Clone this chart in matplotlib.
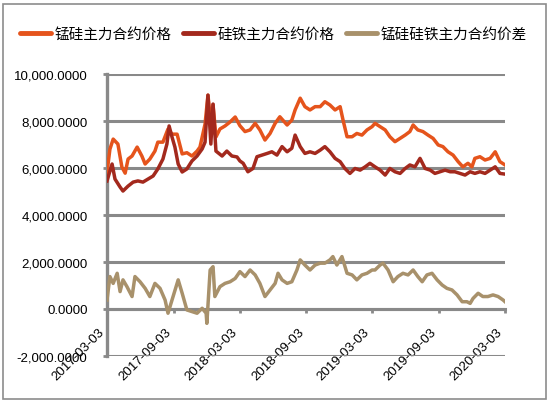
import numpy as np
import pandas as pd
import matplotlib
matplotlib.use('Agg')
import matplotlib.pyplot as plt
from matplotlib.ticker import FuncFormatter
from matplotlib.patches import Rectangle

# data: days after 2017-03-03, price in yuan
start = pd.Timestamp('2017-03-03')

mnsi_days = [0, 8, 17, 30, 41, 50, 58, 69, 83, 96, 105, 118, 132, 140, 154, 168, 179, 193,
             207, 220, 234, 248, 256, 270, 278, 286, 292, 300, 311, 325, 339, 353, 366, 380,
             394, 408, 421, 435, 449, 463, 476, 496, 509, 518, 532, 545, 559, 573, 587, 600,
             614, 628, 642, 650, 661, 675, 688, 702, 716, 730, 738, 752, 766, 779, 793, 807,
             821, 834, 843, 856, 870, 884, 898, 912, 925, 939, 953, 967, 980, 994, 1005, 1013,
             1027, 1041, 1055, 1069, 1082, 1096]
mnsi_price = [5800, 6800, 7230, 7020, 6040, 5780, 6380, 6510, 6890, 6510, 6170, 6380, 6720, 7100,
              7100, 7660, 7440, 7440, 6600, 6650, 6510, 6720, 6890, 7870, 9100, 7900, 8700, 7320,
              7660, 7790, 7960, 8170, 7800, 7550, 7620, 7900, 7620, 7190, 7470, 7900, 8180, 7830,
              8040, 8470, 8970, 8610, 8470, 8610, 8610, 8820, 8680, 8470, 8610, 8040, 7330, 7330,
              7470, 7400, 7620, 7760, 7900, 7760, 7620, 7330, 7120, 7260, 7400, 7550, 7830, 7620,
              7550, 7400, 7260, 6980, 6910, 6690, 6550, 6270, 6050, 6200, 6050, 6410, 6480, 6340,
              6410, 6690, 6270, 6130]

fesi_days = [0, 14, 22, 36, 44, 58, 72, 85, 99, 113, 127, 140, 154, 165, 171, 179, 187, 196,
             207, 220, 234, 248, 262, 270, 278, 286, 292, 300, 317, 330, 344, 358, 366, 375,
             388, 402, 413, 427, 441, 454, 468, 482, 496, 509, 518, 532, 545, 559, 573, 587,
             600, 614, 628, 642, 655, 669, 683, 697, 711, 724, 738, 752, 766, 779, 793, 807,
             821, 834, 848, 862, 876, 890, 903, 917, 931, 945, 958, 972, 986, 1000, 1013, 1027,
             1041, 1055, 1069, 1082, 1096]
fesi_price = [5450, 6170, 5530, 5190, 5020, 5230, 5400, 5450, 5400, 5530, 5660, 5960, 6380, 7020,
              7790, 7320, 6890, 6170, 5830, 5960, 6300, 6510, 6810, 7100, 9100, 7020, 8720, 6720,
              6510, 6720, 6510, 6470, 6300, 6200, 5840, 5980, 6480, 6550, 6620, 6690, 6550, 6910,
              6690, 6840, 7400, 6910, 6620, 6690, 6620, 6760, 6910, 6690, 6410, 6270, 5980, 5770,
              5980, 5910, 6050, 6200, 6050, 5910, 5700, 5980, 5840, 5770, 5980, 6130, 6050, 6410,
              5980, 5910, 5770, 5840, 5910, 5840, 5840, 5770, 5700, 5840, 5770, 5840, 5770, 5910,
              6050, 5770, 5740]

spread_days = [0, 8, 17, 28, 36, 44, 55, 69, 77, 91, 105, 118, 132, 146, 160, 168, 179, 196,
               207, 220, 234, 248, 262, 273, 275, 284, 292, 297, 311, 325, 339, 353, 366, 380,
               394, 408, 421, 435, 449, 463, 471, 482, 496, 509, 523, 532, 545, 559, 573, 587,
               600, 614, 622, 633, 647, 661, 675, 688, 702, 716, 730, 738, 752, 760, 774, 788,
               801, 815, 829, 843, 856, 868, 881, 895, 909, 923, 936, 950, 964, 978, 991, 1000,
               1008, 1022, 1035, 1049, 1063, 1077, 1091, 1096]
spread_price = [380, 1380, 1090, 1520, 740, 1240, 950, 530, 1380, 1160, 880, 530, 1090, 880, 380,
                -180, 380, 1240, 670, -40, -110, -180, 30, -180, -610, 1660, 1800, 530, 950, 1090,
                1160, 1300, 1590, 1380, 1660, 1450, 1090, 530, 810, 1090, 1520, 1240, 1090, 1160,
                1660, 2090, 1870, 1660, 1870, 1950, 1950, 2090, 2230, 1870, 2230, 1520, 1450, 1240,
                1450, 1520, 1660, 1660, 1870, 1950, 1660, 1160, 1380, 1520, 1450, 1660, 1380, 1160,
                1450, 1520, 1240, 1020, 880, 810, 600, 310, 310, 240, 450, 670, 530, 530, 600, 530,
                380, 310]

tick_labels = ['2017-03-03', '2017-09-03', '2018-03-03', '2018-09-03',
               '2019-03-03', '2019-09-03', '2020-03-03']
series_names = ['锰硅主力合约价格', '硅铁主力合约价格', '锰硅硅铁主力合约价差']

gray = '#898989'
plt.rcParams['font.family'] = ['Liberation Sans', 'Noto Sans CJK SC']

fig = plt.figure(figsize=(5.5, 4.06), dpi=100)
ax = fig.add_axes([107 / 550, 1 - 357 / 406, 398 / 550, 282 / 406])

def to_dates(days):
    return start + pd.to_timedelta(np.array(days), unit='D')

ax.plot(to_dates(mnsi_days), mnsi_price, color='#E5541C', lw=2.5, label=series_names[0], zorder=4,
        solid_joinstyle='round')
ax.plot(to_dates(fesi_days), fesi_price, color='#A3291D', lw=2.5, label=series_names[1], zorder=4,
        solid_joinstyle='round')
ax.plot(to_dates(spread_days), spread_price, color='#A8916B', lw=2.5, label=series_names[2], zorder=4,
        solid_joinstyle='round')

# spines first: moving the bottom spine resets the tick labels
for s in ['top', 'right']:
    ax.spines[s].set_visible(False)
ax.spines['bottom'].set_position(('data', 0))
ax.spines['bottom'].set_color(gray)
ax.spines['bottom'].set_linewidth(2.2)
ax.spines['left'].set_color(gray)
ax.spines['left'].set_linewidth(2.4)

ax.set_ylim(-2000, 10000)
ax.set_yticks(np.arange(-2000, 10001, 2000))
ax.yaxis.set_major_formatter(FuncFormatter(lambda v, p: f'{v:,.4f}'))
ax.grid(axis='y', color=gray, lw=2.2, zorder=1)
ax.set_axisbelow(True)

ticks = pd.to_datetime(tick_labels)
ax.set_xlim(ticks[0], ticks[-1])
ax.set_xticks(ticks)
ax.set_xticklabels(tick_labels)

ax.tick_params(axis='y', length=3, width=2, color=gray, pad=11, labelsize=9.5, labelcolor='black')
ax.tick_params(axis='x', length=3, width=2, color=gray, pad=9, labelsize=9.5, labelcolor='black')
plt.setp(ax.get_xticklabels(), rotation=45, ha='right', va='top')

leg = fig.legend(ncol=3, loc='center', bbox_to_anchor=(0.497, 1 - 35 / 406), frameon=False,
                 prop={'family': ['Noto Sans CJK SC'], 'size': 10.5},
                 handlelength=2.1, handletextpad=0.25, columnspacing=0.8)
for h in leg.get_lines():
    h.set_linewidth(3.5)
    h.set_solid_capstyle('round')

fig.patches.append(Rectangle((3 / 550, 1 - 400 / 406), 543 / 550, 395 / 406,
                             transform=fig.transFigure, fill=False, ec='#8c8c8c', lw=1.2))

fig.savefig('out.png', dpi=100)
